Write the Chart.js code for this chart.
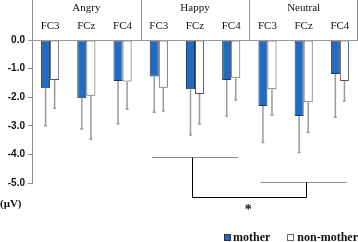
<!DOCTYPE html>
<html>
<head>
<meta charset="utf-8">
<script src="https://cdn.jsdelivr.net/npm/chart.js@4"></script>
<style>
  html, body { margin:0; padding:0; background:#fff; }
  #wrap { position:relative; width:358px; height:242px; }
</style>
</head>
<body>
<div id="wrap"><canvas id="c"></canvas></div>
<script>
// data (amplitude in μV)
const groups = ['Angry', 'Happy', 'Neutral'];
const sites = ['FC3', 'FCz', 'FC4', 'FC3', 'FCz', 'FC4', 'FC3', 'FCz', 'FC4'];
const mother = [-1.69, -2.04, -1.43, -1.28, -1.72, -1.40, -2.31, -2.66, -1.19];
const nonMother = [-1.40, -1.95, -1.45, -1.67, -1.89, -1.32, -1.72, -2.18, -1.43];
const motherErr = [1.31, 1.07, 1.50, 1.25, 1.60, 1.26, 1.27, 1.27, 1.51];
const nonMotherErr = [0.99, 1.52, 0.97, 0.81, 1.05, 0.78, 0.90, 1.05, 0.70];
const yTicks = [0, -1, -2, -3, -4, -5];

const serif = '"Liberation Serif", "DejaVu Serif", serif';
const sans = '"Liberation Sans", Arial, sans-serif';
const blue = '#1f6cc4';

// header boxes, error bars, significance bracket, unit, legend
const decor = {
  id: 'decor',
  afterDatasetsDraw(chart) {
    const { ctx, chartArea: a, scales: { x, y } } = chart;
    const step = x.getPixelForValue(1) - x.getPixelForValue(0);

    // error bars (downward only)
    chart.data.datasets.forEach((ds, di) => {
      const meta = chart.getDatasetMeta(di);
      const errs = di === 0 ? motherErr : nonMotherErr;
      meta.data.forEach((bar, i) => {
        const yEnd = y.getPixelForValue(ds.data[i] - errs[i]);
        ctx.save();
        ctx.strokeStyle = '#9a9a9a';
        ctx.lineWidth = 1.5;
        ctx.beginPath();
        ctx.moveTo(bar.x, bar.y);
        ctx.lineTo(bar.x, yEnd);
        ctx.moveTo(bar.x - 1.5, yEnd);
        ctx.lineTo(bar.x + 1.5, yEnd);
        ctx.stroke();
        ctx.restore();
      });
    });

    ctx.save();
    // zero line
    ctx.strokeStyle = '#9a9a9a';
    ctx.lineWidth = 1;
    ctx.beginPath();
    ctx.moveTo(a.left - 4, Math.round(y.getPixelForValue(0)) + 0.5);
    ctx.lineTo(a.right, Math.round(y.getPixelForValue(0)) + 0.5);
    ctx.stroke();

    // header dividers
    ctx.strokeStyle = '#8c8c8c';
    ctx.beginPath();
    for (let g = 0; g <= groups.length; g++) {
      const xx = Math.round(x.getPixelForValue(g * 3) - step / 2) + 0.5;
      ctx.moveTo(Math.min(xx, a.right - 0.5), 0);
      ctx.lineTo(Math.min(xx, a.right - 0.5), a.top);
    }
    ctx.stroke();

    // group and site labels
    ctx.fillStyle = '#111';
    ctx.textAlign = 'center';
    ctx.textBaseline = 'middle';
    ctx.font = '11px ' + serif;
    groups.forEach((g, gi) => {
      ctx.fillText(g, x.getPixelForValue(gi * 3 + 1), 8);
    });
    sites.forEach((s, i) => {
      ctx.fillText(s, x.getPixelForValue(i), 26);
    });

    // significance bracket
    const hap = x.getPixelForValue(4), neu = x.getPixelForValue(7);
    const yA = Math.round(y.getPixelForValue(-4.1)) + 0.5;
    const yB = Math.round(y.getPixelForValue(-4.97)) + 0.5;
    const yC = Math.round(y.getPixelForValue(-5.5)) + 0.5;
    ctx.strokeStyle = '#8c8c8c';
    ctx.beginPath();
    ctx.moveTo(hap - 43, yA); ctx.lineTo(hap + 43, yA);
    ctx.moveTo(neu - 43, yB); ctx.lineTo(neu + 43, yB);
    ctx.stroke();
    ctx.strokeStyle = '#000';
    ctx.beginPath();
    const bl = Math.round(hap - 3) + 0.5, br = Math.round(neu + 2) + 0.5;
    ctx.moveTo(bl, yA); ctx.lineTo(bl, yC); ctx.lineTo(br, yC); ctx.lineTo(br, yB);
    ctx.stroke();
    ctx.font = 'bold 14px ' + serif;
    ctx.fillText('*', (hap + neu) / 2 - 1, y.getPixelForValue(-5.95));

    // unit
    ctx.font = 'bold 11px ' + serif;
    ctx.textAlign = 'left';
    ctx.fillText('(μV)', 0, 204);

    // legend
    const ly = 237.5;
    ctx.font = 'bold 12px ' + serif;
    ctx.fillStyle = blue;
    ctx.strokeStyle = '#333';
    ctx.fillRect(224.5, 234.5, 6, 6);
    ctx.strokeRect(224.5, 234.5, 6, 6);
    ctx.fillStyle = '#111';
    ctx.fillText('mother', 233, ly);
    ctx.textAlign = 'right';
    ctx.fillText('non-mother', 358, ly);
    const nw = ctx.measureText('non-mother').width;
    ctx.strokeStyle = '#666';
    ctx.strokeRect(Math.round(358 - nw - 10) + 0.5, 234.5, 6, 6);
    ctx.restore();
  }
};

new Chart(document.getElementById('c'), {
  type: 'bar',
  data: {
    labels: sites,
    datasets: [
      { label: 'mother', data: mother, backgroundColor: blue, borderColor: '#333', borderWidth: 1,
        borderSkipped: false },
      { label: 'non-mother', data: nonMother, backgroundColor: '#fff', borderColor: '#555', borderWidth: 1,
        borderSkipped: false }
    ]
  },
  plugins: [decor],
  options: {
    responsive: true,
    maintainAspectRatio: false,
    animation: false,
    layout: { padding: { top: 40, right: 0, bottom: 59, left: 0 } },
    datasets: { bar: { categoryPercentage: 0.5, barPercentage: 1 } },
    plugins: { legend: { display: false }, tooltip: { enabled: false } },
    scales: {
      x: { display: false },
      y: {
        min: -5, max: 0,
        afterFit(s) { s.width = 32; },
        afterBuildTicks(s) { s.ticks = yTicks.map(v => ({ value: v })); },
        border: { color: '#8c8c8c' },
        grid: { drawOnChartArea: false, tickLength: 4, color: '#8c8c8c' },
        ticks: {
          padding: 3,
          color: '#111',
          font: { family: sans, size: 10, weight: 'bold' },
          callback: v => v.toFixed(1)
        }
      }
    }
  }
});
</script>
</body>
</html>
